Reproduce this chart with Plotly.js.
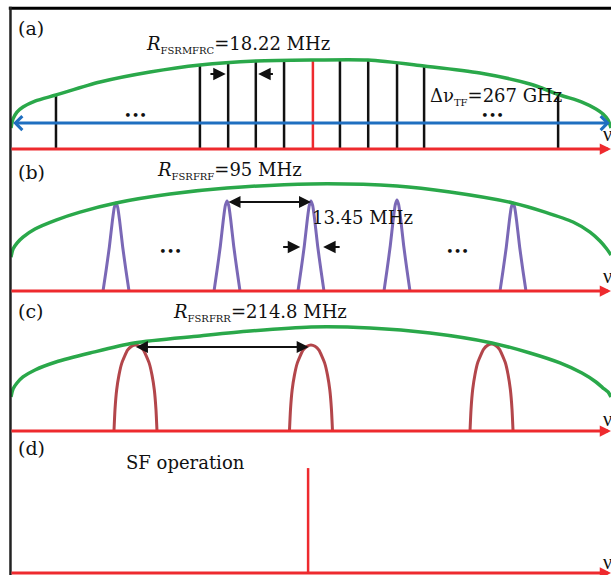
<!DOCTYPE html>
<html>
<head>
<meta charset="utf-8">
<script src="https://cdn.plot.ly/plotly-3.0.1.min.js"></script>
<style>html,body{margin:0;padding:0;background:#fff;}#chart{width:611px;height:575px;}</style>
</head>
<body>
<div id="chart"></div>
<script>
// ---------- data (relative frequency 0-100, amplitude 0-100 per panel) ----------
// Panel (a): MFRC comb under the transmission-filter envelope
const combX = [7.65, 31.6, 36.3, 40.9, 45.6, 54.9, 59.6, 64.4, 68.9, 91.2];
const combH = [38.3, 59.6, 62.4, 63.1, 63.1, 63.8, 63.1, 61.7, 58.2, 37.6];
const carrierX = [50.4];
const carrierH = [63.1];
const envAX = [0.17, 0.5, 1.16, 2.16, 4.16, 7.65, 14.98, 23.29, 31.61, 40.93, 50.42, 59.57, 68.89, 78.2, 86.52, 91.51, 95.17, 97.5, 98.67, 99.5, 100];
const envAY = [14.9, 21.3, 26.2, 29.8, 34.0, 38.3, 47.5, 54.6, 59.6, 62.4, 63.1, 63.1, 58.9, 53.9, 46.1, 38.3, 33.3, 28.4, 24.8, 20.6, 14.9];

// Panel (b): FRF transmission peaks
const peaksBX = [17.64, 36.11, 50.08, 64.39, 83.69];
const peaksBH = [62.0, 63.4, 63.4, 64.1, 62.0];
const shapeBDx = [-2.16, -1.66, -1.11, -0.6, -0.28, 0, 0.28, 0.6, 1.11, 1.66, 2.16];
const shapeBRel = [0, 0.23, 0.5, 0.8, 0.95, 1, 0.95, 0.8, 0.5, 0.23, 0];
const envBX = [0.17, 0.5, 1.16, 2.16, 4.16, 7.65, 11.65, 17.64, 26.62, 36.11, 50.08, 64.39, 73.21, 83.69, 89.02, 93.68, 96.51, 98.17, 99.17, 100];
const envBY = [23.9, 29.6, 33.8, 38.0, 43.7, 50.0, 55.6, 62.0, 68.3, 72.5, 75.4, 73.9, 69.7, 62.0, 55.6, 48.6, 41.5, 35.2, 30.3, 25.4];

// Panel (c): FRR transmission peaks
const peaksCX = [20.88, 50.08, 80.12];
const peaksCH = [61.4, 61.4, 62.1];
const shapeCDx = [-3.58, -3.41, -3.13, -2.75, -2.28, -1.33, -0.67, 0, 0.67, 1.33, 2.28, 2.75, 3.13, 3.41, 3.58];
const shapeCRel = [0, 0.25, 0.48, 0.65, 0.79, 0.94, 0.985, 1, 0.985, 0.94, 0.79, 0.65, 0.48, 0.25, 0];
const envCX = [0.17, 0.5, 1.16, 2.16, 4.16, 7.65, 13.31, 20.63, 31.61, 39.93, 50.08, 59.9, 69.88, 80.2, 86.52, 91.51, 95.17, 97.5, 98.67, 99.5, 100];
const envCY = [24.3, 30.0, 34.3, 38.6, 43.6, 49.3, 55.7, 62.9, 67.9, 71.4, 74.3, 73.6, 70.0, 62.9, 55.7, 48.6, 41.4, 35.0, 30.7, 27.9, 24.3];

// Panel (d): single-frequency output
const sfX = [49.6];
const sfH = [73.9];

// Labels
const SUB = s => '<sub><span style="font-size:10px">' + s + '</span></sub>';
const panelLabels = ['(a)', '(b)', '(c)', '(d)'];
const rateLabels = ['<i>R</i>' + SUB('FSRMFRC') + '=18.22 MHz', '<i>R</i>' + SUB('FSRFRF') + '=95 MHz', '<i>R</i>' + SUB('FSRFRR') + '=214.8 MHz', 'SF operation'];
const bwLabelA = '\u0394\u03bd' + SUB('TF') + '=267 GHz';
const bwLabelB = '13.45 MHz';
const axisLabel = '\u03bd';

// ---------- styles ----------
const RED = '#ee2a2e', GREEN = '#2aa84a', BLUE = '#1f6fc0', PURPLE = '#7a68b6', BROWN = '#b3464b', BLACK = '#111111';
const FONT = 'DejaVu Serif';
const FS = 17.5;

function stems(xs, hs) {
  const x = [], y = [];
  xs.forEach((v, i) => { x.push(v, v, null); y.push(0, hs[i], null); });
  return {x, y};
}
function peakTrace(cx, h, dx, rel, yax, color) {
  return {
    x: dx.map(d => cx + d), y: rel.map(r => r * h), yaxis: yax, xaxis: 'x',
    mode: 'lines', line: {color: color, width: 3, shape: 'spline', smoothing: 0.5},
    hoverinfo: 'skip'
  };
}

const traces = [];
const cs = stems(combX, combH);
traces.push({x: cs.x, y: cs.y, xaxis: 'x', yaxis: 'y', mode: 'lines', line: {color: BLACK, width: 2.5}, hoverinfo: 'skip'});
const cr = stems(carrierX, carrierH);
traces.push({x: cr.x, y: cr.y, xaxis: 'x', yaxis: 'y', mode: 'lines', line: {color: RED, width: 2.5}, hoverinfo: 'skip'});
traces.push({x: envAX, y: envAY, xaxis: 'x', yaxis: 'y', mode: 'lines', line: {color: GREEN, width: 3.5, shape: 'spline', smoothing: 0.8}, hoverinfo: 'skip'});

peaksBX.forEach((c, i) => traces.push(peakTrace(c, peaksBH[i], shapeBDx, shapeBRel, 'y2', PURPLE)));
traces.push({x: envBX, y: envBY, xaxis: 'x', yaxis: 'y2', mode: 'lines', line: {color: GREEN, width: 3.5, shape: 'spline', smoothing: 0.8}, hoverinfo: 'skip'});

peaksCX.forEach((c, i) => traces.push(peakTrace(c, peaksCH[i], shapeCDx, shapeCRel, 'y3', BROWN)));
traces.push({x: envCX, y: envCY, xaxis: 'x', yaxis: 'y3', mode: 'lines', line: {color: GREEN, width: 3.5, shape: 'spline', smoothing: 0.8}, hoverinfo: 'skip'});

const sf = stems(sfX, sfH);
traces.push({x: sf.x, y: sf.y, xaxis: 'x', yaxis: 'y4', mode: 'lines', line: {color: RED, width: 2.5}, hoverinfo: 'skip'});

// ---------- annotations ----------
const yrefs = ['y', 'y2', 'y3', 'y4'];
const ann = [];
function arrow(yref, x0, y0, x1, y1, color, width, head, size, both) {
  const a = {
    xref: 'x', yref: yref, axref: 'x', ayref: yref,
    x: x1, y: y1, ax: x0, ay: y0, text: '', showarrow: true,
    arrowhead: head, arrowsize: size, arrowwidth: width, arrowcolor: color
  };
  if (both) { a.arrowside = 'end+start'; a.startarrowhead = head; a.startarrowsize = size; }
  return a;
}
function label(yref, x, y, text, size, anchor, family) {
  return {xref: 'x', yref: yref, x: x, y: y, text: text, showarrow: false,
    xanchor: anchor || 'left', yanchor: 'middle', font: {family: family || FONT, size: size || FS, color: '#111'}};
}

// red frequency axes
yrefs.forEach(r => ann.push(arrow(r, 0, 0, 100, 0, RED, 3, 2, 0.75, false)));
// blue bandwidth arrow
ann.push(arrow('y', 0.28, 18.4, 99.8, 18.4, BLUE, 3, 4, 0.9, true));
// small spacing arrows, panel (a)
ann.push(arrow('y', 33.1, 53.2, 35.9, 53.2, BLACK, 2, 2, 1.25, false));
ann.push(arrow('y', 44.0, 53.2, 41.3, 53.2, BLACK, 2, 2, 1.25, false));
// panel (b): FSR arrow and linewidth arrows
ann.push(arrow('y2', 36.11, 62.7, 50.08, 62.7, BLACK, 2, 2, 1.2, true));
ann.push(arrow('y2', 45.2, 31, 48.3, 31, BLACK, 2, 2, 1.25, false));
ann.push(arrow('y2', 55.1, 31, 52.1, 31, BLACK, 2, 2, 1.25, false));
// panel (c): FSR arrow
ann.push(arrow('y3', 20.7, 60, 49.7, 60, BLACK, 2, 2, 1.2, true));

// panel letters
const letterY = [86.0, 84.0, 86.0, 88];
panelLabels.forEach((t, i) => ann.push(label(yrefs[i], 1.0, letterY[i], t, 19)));
// rate labels
const rateX = [22.3, 24.1, 26.8, 19.0];
const rateY = [73.8, 85.2, 85.0, 77.5];
rateLabels.forEach((t, i) => ann.push(label(yrefs[i], rateX[i], rateY[i], t, 18)));
ann.push(label('y', 69.6, 37.0, bwLabelA, 18));
ann.push(label('y2', 49.9, 52.1, bwLabelB, 18));
// ellipses
ann.push(label('y', 20.9, 23.5, '\u2022\u2022\u2022', 13, 'center'));
ann.push(label('y', 80.2, 23.5, '\u2022\u2022\u2022', 13, 'center'));
ann.push(label('y2', 26.7, 28, '\u2022\u2022\u2022', 13, 'center'));
ann.push(label('y2', 74.5, 28, '\u2022\u2022\u2022', 13, 'center'));
// axis symbol
const nuY = [10.5, 10.5, 8.5, 8.0];
yrefs.forEach((r, i) => ann.push(label(r, 98.3, nuY[i], axisLabel, 20, 'left', 'Liberation Serif')));

const hidden = {visible: false, showgrid: false, zeroline: false, fixedrange: true};
const layout = {
  width: 611, height: 575,
  margin: {l: 10, r: 0, t: 8, b: 2, pad: 0},
  paper_bgcolor: '#ffffff', plot_bgcolor: '#ffffff',
  showlegend: false,
  xaxis: Object.assign({range: [0, 100]}, hidden),
  yaxis: Object.assign({range: [0, 100], domain: [0.7504, 1]}, hidden),
  yaxis2: Object.assign({range: [0, 100], domain: [0.4991, 0.7504], anchor: 'x'}, hidden),
  yaxis3: Object.assign({range: [0, 100], domain: [0.2513, 0.4991], anchor: 'x'}, hidden),
  yaxis4: Object.assign({range: [0, 100], domain: [0, 0.2513], anchor: 'x'}, hidden),
  shapes: [
    {type: 'line', xref: 'paper', yref: 'paper', x0: -0.002, x1: 1, y0: 0.9995, y1: 0.9995, line: {color: '#000', width: 3}},
    {type: 'line', xref: 'paper', yref: 'paper', x0: 0.0008, x1: 0.0008, y0: -0.005, y1: 1.002, line: {color: '#222', width: 2.5}}
  ],
  annotations: ann
};

Plotly.newPlot('chart', traces, layout, {staticPlot: true, displayModeBar: false});
</script>
</body>
</html>
